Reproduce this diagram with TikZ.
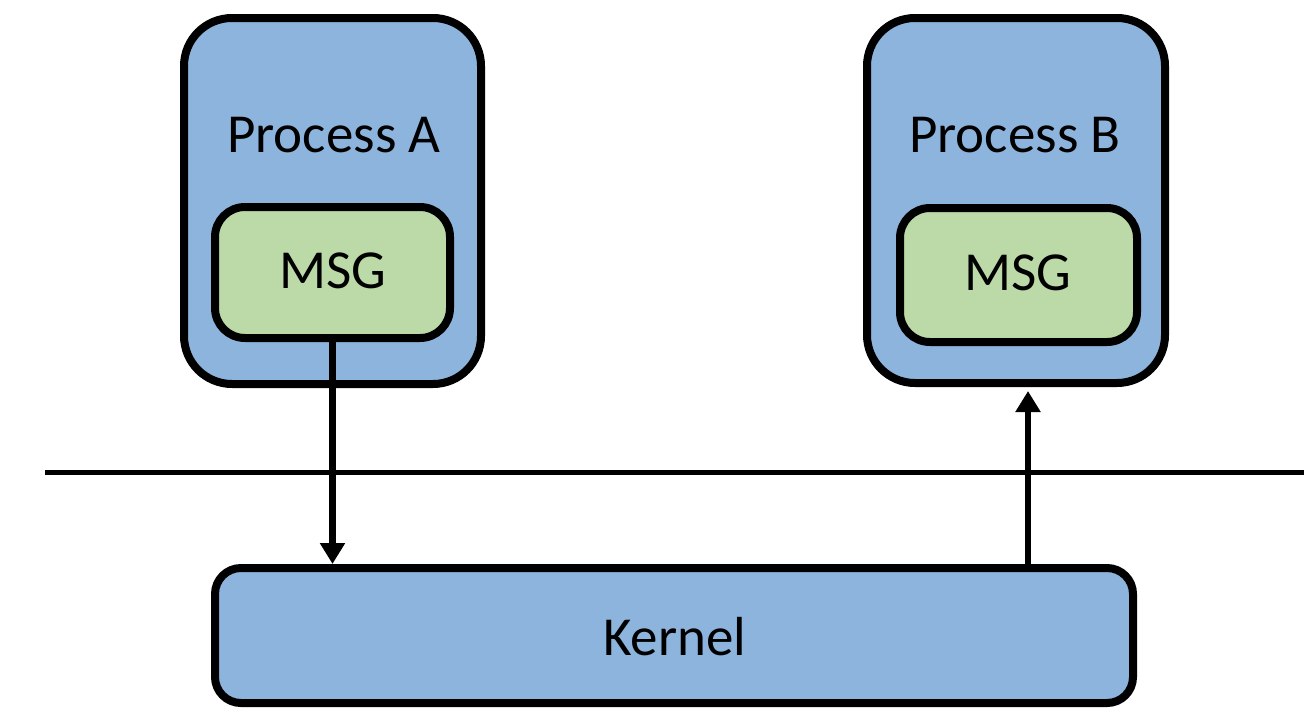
\documentclass[tikz,border=0pt]{standalone}
\usepackage{fontspec}
\setmainfont{Carlito}
\usetikzlibrary{arrows.meta}
\definecolor{procblue}{RGB}{141,180,220}
\definecolor{msggreen}{RGB}{188,217,168}
\tikzset{
  boxtext/.style={font=\fontsize{55}{62}\selectfont},
  procbox/.style={draw=black, line width=8pt, fill=procblue, rounded corners=48pt, inner sep=0pt},
  msgbox/.style={draw=black, line width=8pt, fill=msggreen, rounded corners=30pt, inner sep=0pt},
  kernbox/.style={draw=black, line width=8pt, fill=procblue, rounded corners=26pt, inner sep=0pt},
  arr/.style={line width=6.5pt, -{Triangle[width=24pt,length=21pt]}},
  sepline/.style={line width=5pt}
}
\begin{document}
\begin{tikzpicture}[x=1pt,y=-1pt]
\useasboundingbox (0,0) rectangle (1316,720);
% process boxes
\node[procbox, minimum width=297pt, minimum height=366pt] (pa) at (332.5,201) {};
\node[procbox, minimum width=298pt, minimum height=365pt] (pb) at (1016,200.5) {};
\node[msgbox, minimum width=235pt, minimum height=131pt] (ma) at (332.5,272.5) {};
\node[msgbox, minimum width=237pt, minimum height=134pt] (mb) at (1018.5,275) {};
\node[kernbox, minimum width=918pt, minimum height=135pt] (k) at (674,635.5) {};
% labels
\node[boxtext, anchor=base] (pat) at (334,152) {Process A};
\node[boxtext, anchor=base] (pbt) at (1015,152) {Process B};
\node[boxtext, anchor=base] (mat) at (332.5,288) {MSG};
\node[boxtext, anchor=base] (mbt) at (1017.5,290) {MSG};
\node[boxtext, anchor=base] (kt) at (674.5,655) {Kernel};
% separator line
\coordinate (l1) at (45,472);
\coordinate (l2) at (1304,472);
\draw[sepline] (l1) -- (l2);
% arrows
\coordinate (bx) at (1028,0);
\draw[arr] (ma.south) -- (ma.south |- k.north);
\draw[arr, shorten >=4pt] ([yshift=-5pt]k.north -| bx) -- (pb.south -| bx);
\end{tikzpicture}
\end{document}
